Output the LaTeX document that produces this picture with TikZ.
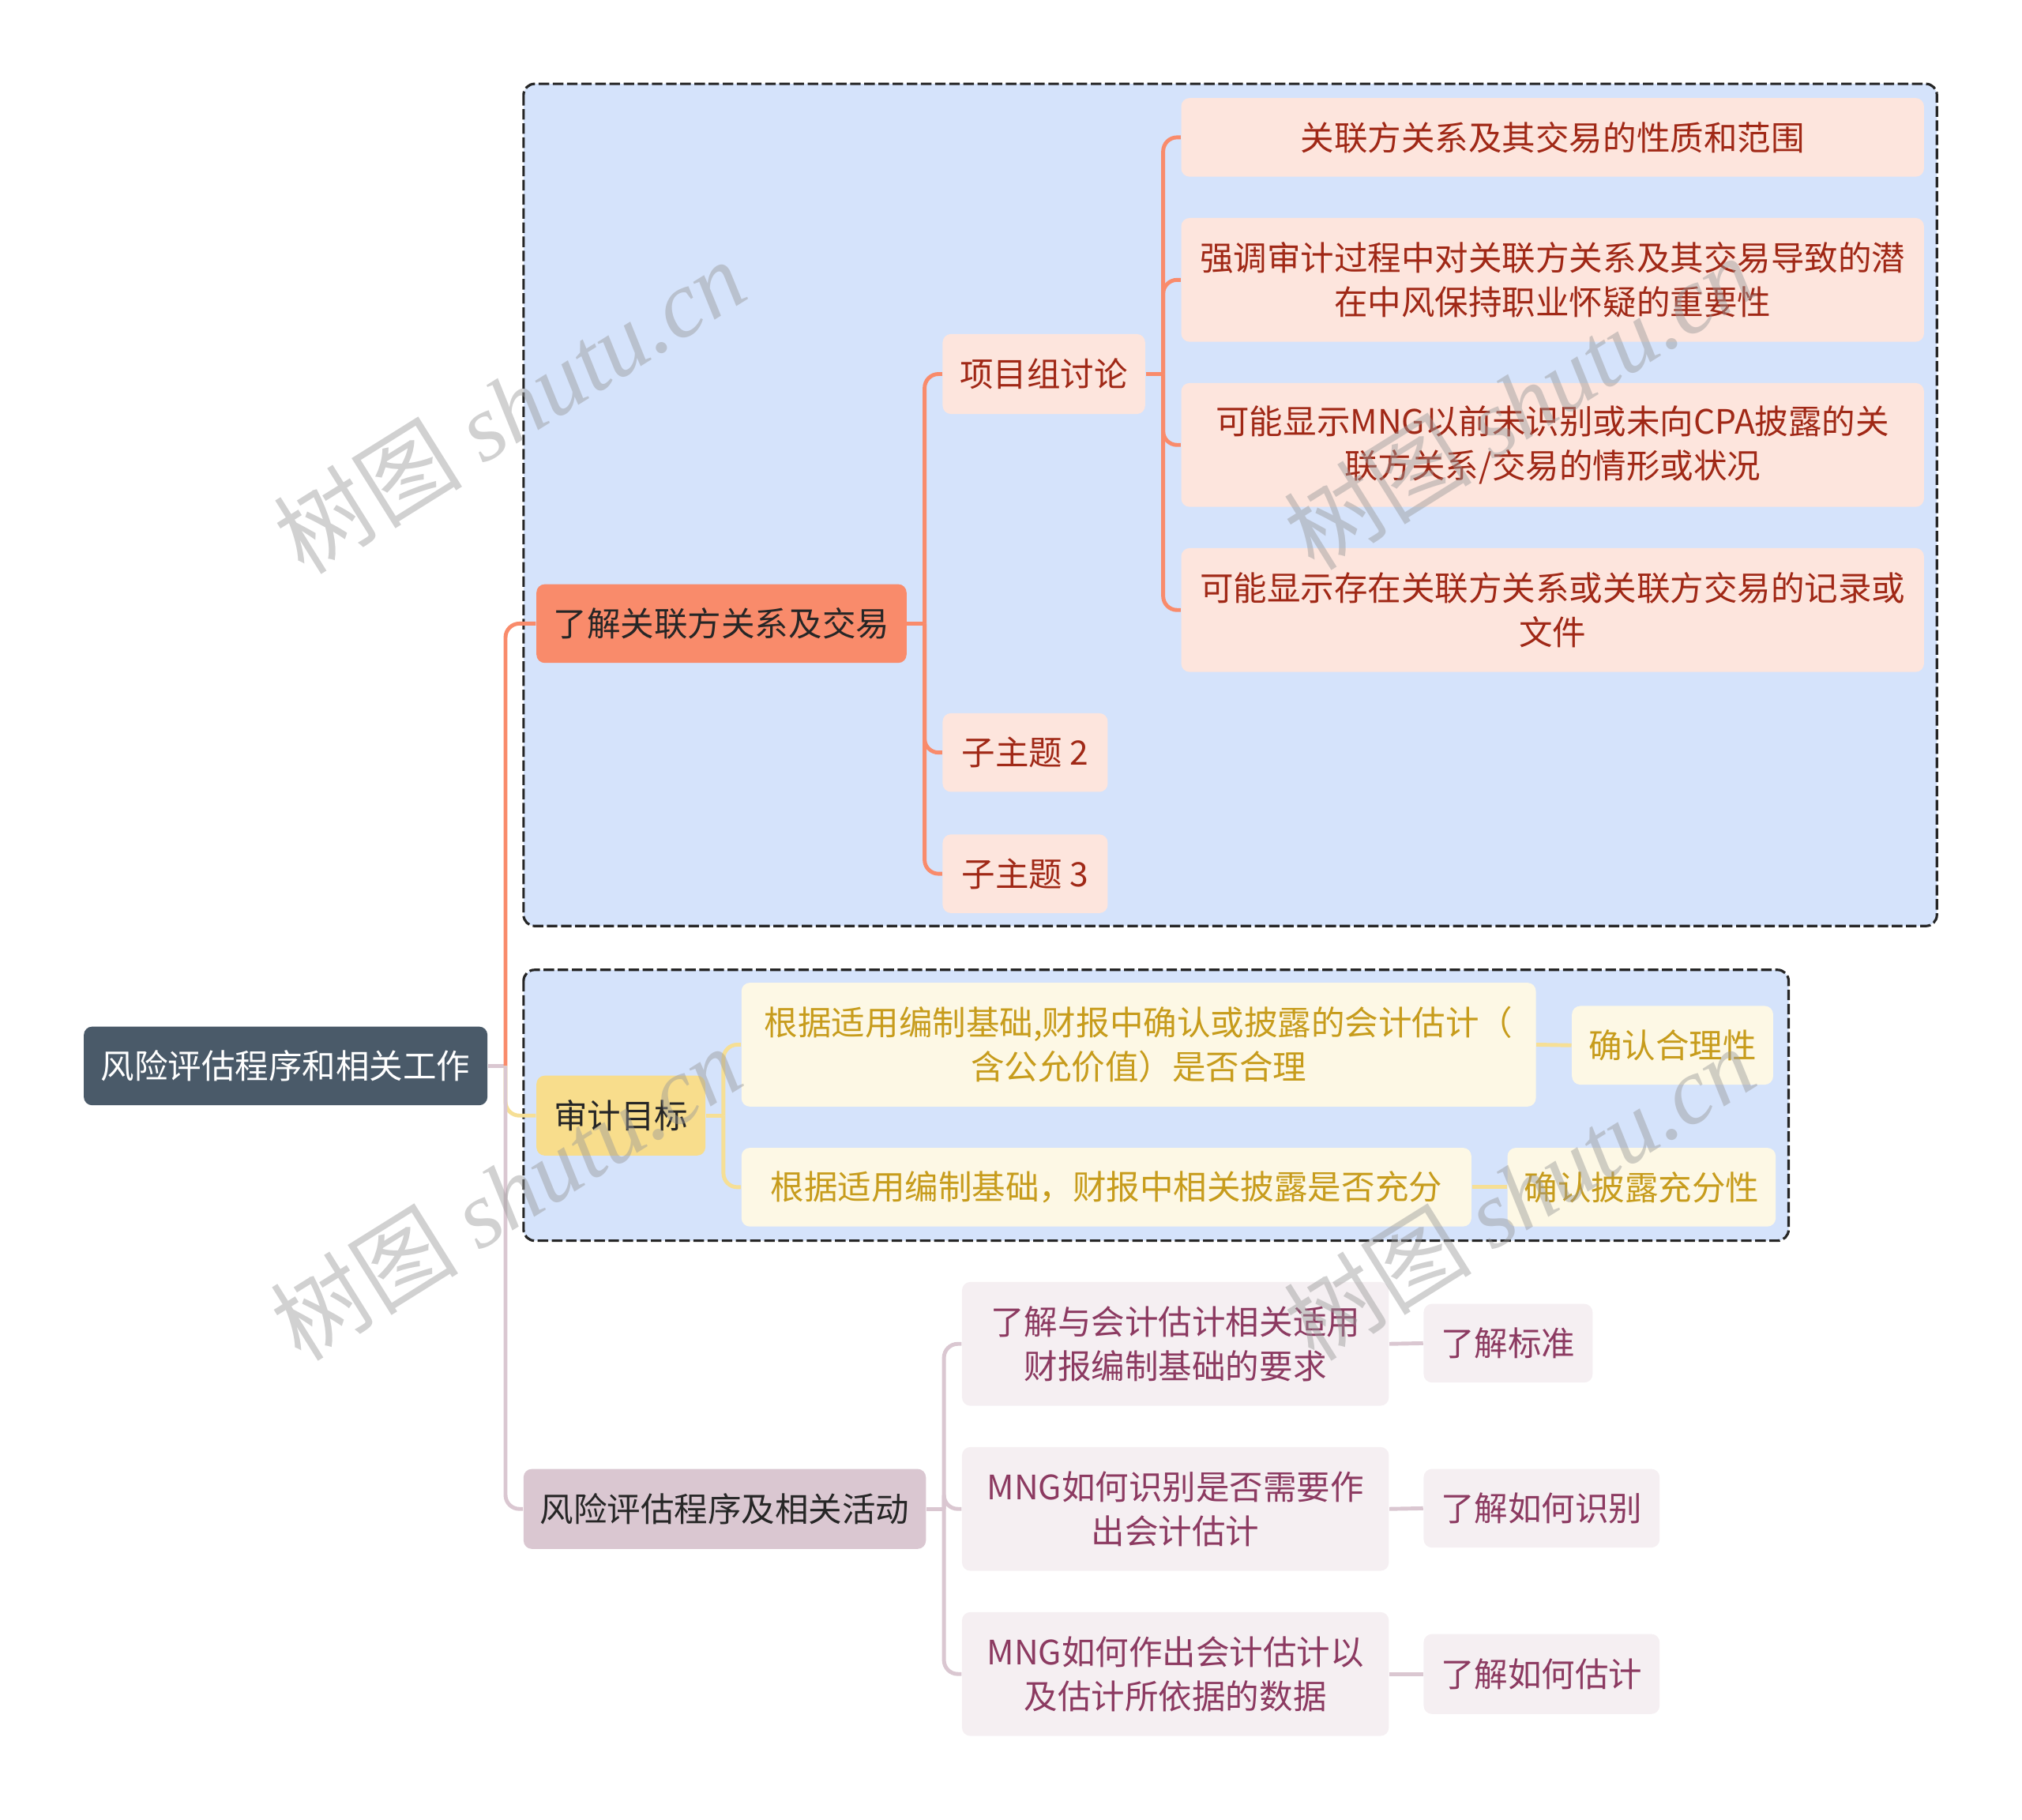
\documentclass[tikz,border=0pt]{standalone}
\usepackage{fontspec}
\setmainfont{Noto Sans CJK SC}
\newfontfamily\wmlatin{Liberation Serif}
\newlength\px
\setlength\px{0.016327cm}

\definecolor{rootfill}{HTML}{4A5A69}
\definecolor{salmon}{HTML}{F98B6B}
\definecolor{salmonlt}{HTML}{FDE5DD}
\definecolor{salmontx}{HTML}{A02816}
\definecolor{gold}{HTML}{F8DD8C}
\definecolor{goldline}{HTML}{F6DF95}
\definecolor{goldlt}{HTML}{FDF8E5}
\definecolor{goldtx}{HTML}{C79C1C}
\definecolor{mauve}{HTML}{DAC7D1}
\definecolor{mauvelt}{HTML}{F5EFF2}
\definecolor{mauvetx}{HTML}{8C3A61}
\definecolor{groupfill}{HTML}{D5E3FB}

\begin{document}
\begin{tikzpicture}[x=0.016327cm,y=-0.016327cm,
    box/.style={rounded corners=3pt, inner sep=0pt, align=center,
        font=\fontsize{12.1}{15.8}\selectfont},
    sz/.style 2 args={minimum width=#1*\px, minimum height=#2*\px},
    rootbox/.style={box, fill=rootfill, text=white},
    redtopic/.style={box, fill=salmon, text=black!85},
    redsub/.style={box, fill=salmonlt, text=salmontx},
    goldtopic/.style={box, fill=gold, text=black!85},
    goldsub/.style={box, fill=goldlt, text=goldtx},
    mauvetopic/.style={box, fill=mauve, text=black!85},
    mauvesub/.style={box, fill=mauvelt, text=mauvetx},
    group/.style={draw=black!85, dash pattern=on 3.8pt off 1.3pt, fill=groupfill,
        rounded corners=4pt, line width=0.9pt},
    redline/.style={draw=salmon, line width=1.4pt, rounded corners=5pt},
    goldline/.style={draw=goldline, line width=1.4pt, rounded corners=5pt},
    mauveline/.style={draw=mauve, line width=1.4pt, rounded corners=5pt},
    wm/.style={text=black!40, opacity=0.45, rotate=32, font=\fontsize{34}{34}\selectfont}
]

    % page frame
    \useasboundingbox (0,0) rectangle (1568,1411);

    % dashed groups
    \draw[group] (406,65) rectangle (1502,718);
    \draw[group] (406,752) rectangle (1387,962);

    % root
    \node[rootbox, sz={313}{61}] (root) at (221.5,826.5) {风险评估程序和相关工作};

    % first branch
    \node[redtopic, sz={287}{61}] (rel) at (559.5,483.5) {了解关联方关系及交易};
    \node[redsub, sz={157}{62}] (team) at (809.5,290) {项目组讨论};
    \node[redsub, sz={128}{61}] (sub2) at (795,583.5) {子主题 2};
    \node[redsub, sz={128}{61}] (sub3) at (795,677.5) {子主题 3};

    \node[redsub, sz={576}{61}] (lead1) at (1204,106.5) {关联方关系及其交易的性质和范围};
    \node[redsub, sz={576}{96}] (lead2) at (1204,217)
        {强调审计过程中对关联方关系及其交易导致的潜\\在中风保持职业怀疑的重要性};
    \node[redsub, sz={576}{96}] (lead3) at (1204,345)
        {可能显示MNG以前未识别或未向CPA披露的关\\联方关系/交易的情形或状况};
    \node[redsub, sz={576}{96}] (lead4) at (1204,473)
        {可能显示存在关联方关系或关联方交易的记录或\\文件};

    % second branch
    \node[goldtopic, sz={131}{62}] (goal) at (481.5,865) {审计目标};
    \node[goldsub, sz={616}{96}] (goalA) at (883,810)
        {根据适用编制基础,财报中确认或披露的会计估计（\\含公允价值）是否合理};
    \node[goldsub, sz={566}{61}] (goalB) at (858,920.5) {根据适用编制基础，财报中相关披露是否充分};
    \node[goldsub, sz={156}{61}] (okA) at (1297,810.5) {确认合理性};
    \node[goldsub, sz={208}{61}] (okB) at (1273,920.5) {确认披露充分性};

    % third branch
    \node[mauvetopic, sz={312}{62}] (proc) at (562,1170) {风险评估程序及相关活动};
    \node[mauvesub, sz={331}{96}] (stepA) at (911.5,1042)
        {了解与会计估计相关适用\\财报编制基础的要求};
    \node[mauvesub, sz={331}{96}] (stepB) at (911.5,1170)
        {MNG如何识别是否需要作\\出会计估计};
    \node[mauvesub, sz={331}{96}] (stepC) at (911.5,1298)
        {MNG如何作出会计估计以\\及估计所依据的数据};
    \node[mauvesub, sz={131}{61}] (knowA) at (1169.5,1041.5) {了解标准};
    \node[mauvesub, sz={183}{61}] (knowB) at (1195.5,1169.5) {了解如何识别};
    \node[mauvesub, sz={183}{62}] (knowC) at (1195.5,1298) {了解如何估计};

    % junctions
    \coordinate (rootj) at (392,826.5);
    \coordinate (relj) at (717,483.5);
    \coordinate (teamj) at (902,290);
    \coordinate (goalj) at (561,865);
    \coordinate (procj) at (732,1170);

    % connectors
    \draw[mauveline] (root.east) -- (rootj);
    \draw[redline] (rootj) |- (rel.west);
    \draw[goldline] (rootj) |- (goal.west);
    \draw[mauveline] (rootj) |- (proc.west);

    \draw[redline] (rel.east) -- (relj);
    \foreach \n in {team,sub2,sub3}
        \draw[redline] (relj) |- (\n.west);
    \draw[redline] (team.east) -- (teamj);
    \foreach \n in {lead1,lead2,lead3,lead4}
        \draw[redline] (teamj) |- (\n.west);

    \draw[goldline] (goal.east) -- (goalj);
    \foreach \n in {goalA,goalB}
        \draw[goldline] (goalj) |- (\n.west);
    \draw[goldline] (goalA.east) -- (okA.west);
    \draw[goldline] (goalB.east) -- (okB.west);

    \draw[mauveline] (proc.east) -- (procj);
    \foreach \n in {stepA,stepB,stepC}
        \draw[mauveline] (procj) |- (\n.west);
    \draw[mauveline] (stepA.east) -- (knowA.west);
    \draw[mauveline] (stepB.east) -- (knowB.west);
    \draw[mauveline] (stepC.east) -- (knowC.west);

    % watermarks
    \foreach \wx/\wy [count=\i] in {395/315, 1178/312, 392/925, 1178/925}
        \node[wm] (mark\i) at (\wx,\wy) {树图 {\wmlatin\itshape shutu.cn}};

\end{tikzpicture}
\end{document}
